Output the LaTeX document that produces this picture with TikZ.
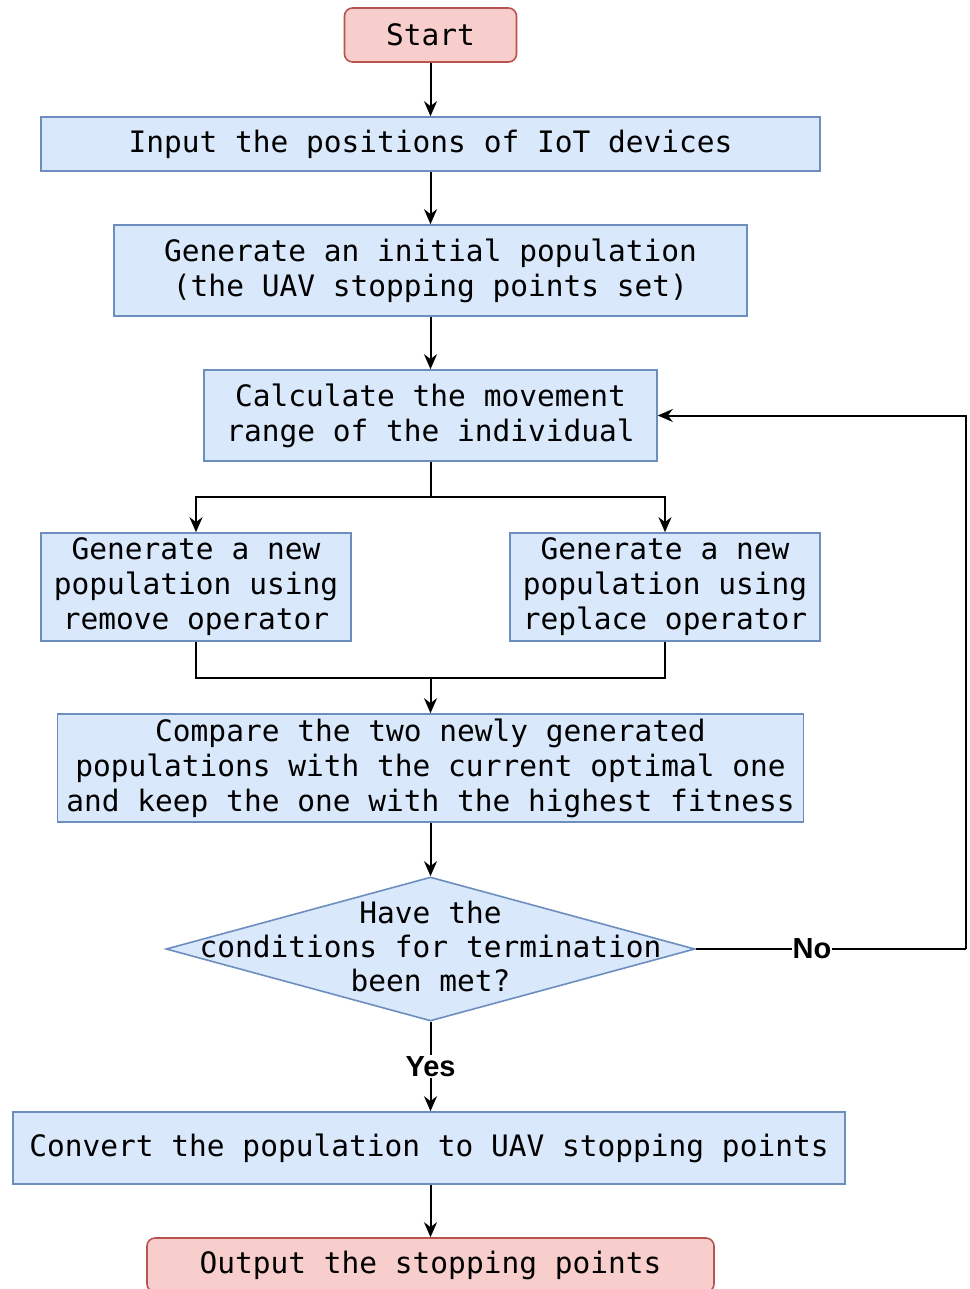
\documentclass[tikz,border=0pt]{standalone}
\usepackage{fontspec}
\setmonofont{DejaVu Sans Mono}
\newfontfamily\lblfont{Liberation Sans}
\usetikzlibrary{shapes.geometric,arrows.meta}
\definecolor{blueF}{HTML}{DAE8FC}
\definecolor{blueD}{HTML}{6C8EBF}
\definecolor{redF}{HTML}{F8CECC}
\definecolor{redD}{HTML}{B85450}
\begin{document}
\begin{tikzpicture}[x=1pt,y=-1pt,
  base/.style={line width=1.6pt, font=\ttfamily\fontsize{29.5}{35}\selectfont, align=center, inner sep=0pt, text=black},
  proc/.style={base, rectangle, fill=blueF, draw=blueD},
  term/.style={base, rectangle, rounded corners=8pt, fill=redF, draw=redD},
  deci/.style={base, diamond, fill=blueF, draw=blueD},
  conn/.style={line width=2pt, draw=black},
  arr/.style={conn, -{Stealth[length=15pt,width=13pt]}},
  lbl/.style={fill=white, inner sep=1pt, font=\lblfont\bfseries\fontsize{29}{32}\selectfont, text=black}
]
\useasboundingbox (0,0) rectangle (969,1289);

\node[term, minimum width=172pt, minimum height=54pt] (start) at (430.5,35) {Start};
\node[proc, minimum width=779pt, minimum height=54pt] (input) at (430.5,144) {Input the positions of IoT devices};
\node[proc, minimum width=633pt, minimum height=91pt] (gen) at (430.5,270.5) {Generate an initial population\\(the UAV stopping points set)};
\node[proc, minimum width=453pt, minimum height=91pt] (calc) at (430.5,415.5) {Calculate the movement\\range of the individual};
\node[proc, minimum width=310pt, minimum height=108pt] (remove) at (196,587) {Generate a new\\population using\\remove operator};
\node[proc, minimum width=310pt, minimum height=108pt] (replace) at (665,587) {Generate a new\\population using\\replace operator};
\node[proc, minimum width=746pt, minimum height=108pt] (compare) at (430.5,768) {Compare the two newly generated\\populations with the current optimal one\\and keep the one with the highest fitness};
\node[deci, minimum width=529pt, minimum height=144pt] (dec) at (430.5,949) {};
\node[base, font=\ttfamily\fontsize{29.5}{34}\selectfont] (dectext) at (430.5,946.5) {Have the\\conditions for termination\\been met?};
\node[proc, minimum width=832pt, minimum height=72pt] (conv) at (429,1148) {Convert the population to UAV stopping points};
\node[term, minimum width=567pt, minimum height=54pt] (out) at (430.5,1265) {Output the stopping points};

\coordinate (split) at (430.5,497);
\coordinate (merge) at (430.5,678);
\coordinate (nocorner) at (966,949);

\draw[arr] (start.south) -- (start.south |- input.north);
\draw[arr] (input) -- (gen);
\draw[arr] (gen) -- (calc);
\draw[conn] (calc.south) -- (split);
\draw[arr] (split) -| (remove.north);
\draw[arr] (split) -| (replace.north);
\draw[conn] (remove.south) |- (merge);
\draw[conn] (replace.south) |- (merge);
\draw[arr] (merge) -- (compare.north);
\draw[arr] (compare) -- (dec.north);
\draw[arr] (dec.south) -- node[lbl] (yes) {Yes} (dec.south |- conv.north);
\draw[conn] (dec.east) -- node[lbl, pos=0.43] (no) {No} (nocorner);
\draw[arr] (nocorner) |- (calc.east);
\draw[arr] (conv.south -| out.north) -- (out.north);
\end{tikzpicture}
\end{document}
